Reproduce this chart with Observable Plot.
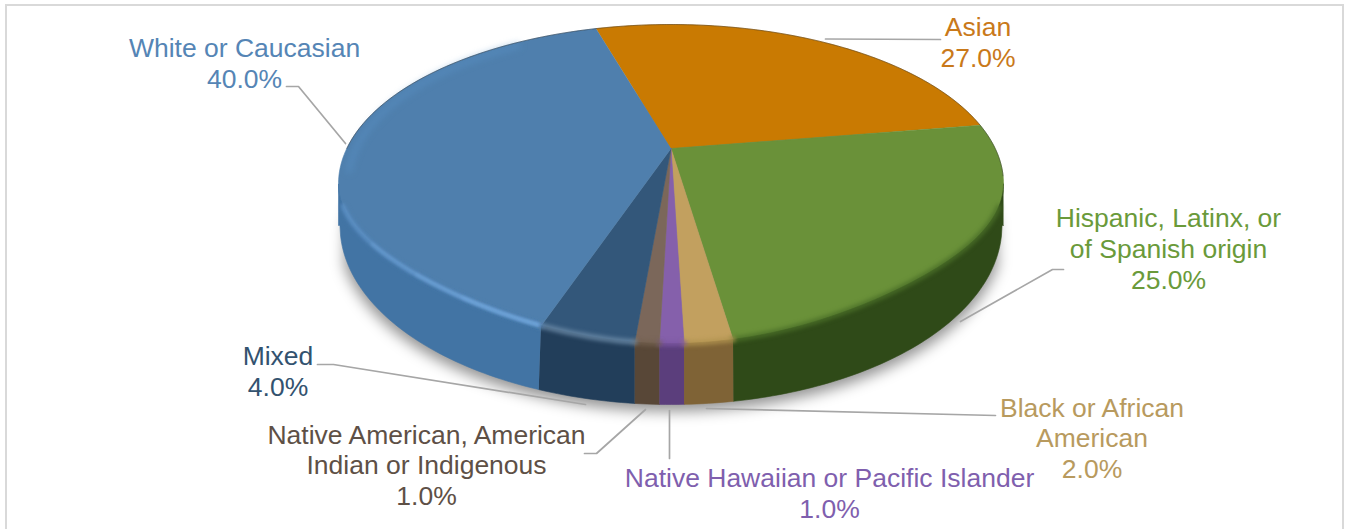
<!DOCTYPE html>
<html>
<head>
<meta charset="utf-8">
<script src="https://cdn.jsdelivr.net/npm/d3@7"></script>
<script src="https://cdn.jsdelivr.net/npm/@observablehq/plot@0.6"></script>
<style>
  html, body { margin: 0; padding: 0; background: #fff; overflow: hidden; }
  #chart { position: relative; width: 1347px; height: 529px; overflow: hidden; }
  #chart svg { display: block; }
  #frame { position: absolute; left: 5px; top: 4px; width: 1335px; height: 540px;
           border: 2px solid #d9d9d9; box-sizing: content-box; pointer-events: none; }
</style>
</head>
<body>
<div id="chart"><div id="frame"></div></div>
<script>
// Shares in clockwise order, beginning at the Asian wedge
const categories = ["Asian", "Hispanic, Latinx, or of Spanish origin", "Black or African American",
  "Native Hawaiian or Pacific Islander", "Native American, American Indian or Indigenous", "Mixed", "White or Caucasian"];
const values = [27, 25, 2, 1, 1, 4, 40];

const labelText = ["Asian\n27.0%", "Hispanic, Latinx, or\nof Spanish origin\n25.0%", "Black or African\nAmerican\n2.0%",
  "Native Hawaiian or Pacific Islander\n1.0%", "Native American, American\nIndian or Indigenous\n1.0%", "Mixed\n4.0%", "White or Caucasian\n40.0%"];
const labelX = [977.5, 1168, 1091.5, 829, 426, 277.5, 244];
const labelY = [41.5, 247.5, 437, 492.5, 464, 370.5, 62];

const faceColors = ["#c97a02", "#6a9139", "#c2a05f", "#8560ab", "#7b675a", "#33577a", "#4f7fad"];
const wallColors = ["#8a5400", "#2f4a18", "#7f6336", "#5b3e7c", "#584737", "#223e5a", "#4274a4"];
const bevelColors = ["#c97a02", "#4a6f28", "#b0924f", "#7d58a3", "#73604f", "#6d8ca8", "#5386ba"];
const textColors = ["#c9791a", "#6a9a3a", "#b89a5e", "#7f5fae", "#5e5046", "#33526f", "#5585b5"];

// Callout lines, one polyline per category
const leaders = [
  [[825, 38.5], [940, 39]],
  [[960, 321], [1052, 269], [1063, 269]],
  [[706, 408], [995, 415]],
  [[669, 410], [669, 458]],
  [[645, 409], [596, 453], [584, 453]],
  [[317, 364], [333, 364], [585, 404]],
  [[286, 86], [298, 86], [345, 143]]
];

// Perspective disc: apex, foreshortening and tilt of the tabletop
const apex = [670.5, 148], persp = 0.2226, sx = 324.2, sy = 151.6;
const startAngle = -16.3;
const toRad = Math.PI / 180;
const sideAngle = Math.acos(-persp) / toRad; // where the rim is widest

function project(deg, r = 1) {
  const u = r * Math.sin(deg * toRad), v = r * Math.cos(deg * toRad), w = 1 + persp * v;
  // slight pinch at the very front of the disc
  const pinch = 1 - 0.055 * Math.max(0, -v) ** 4;
  return {x: apex[0] + sx * u * pinch / w, y: apex[1] - sy * v / w};
}
// Lower outline of the disc, given the horizontal position on the rim
function floorY(x) {
  const t = (x - apex[0]) / 331;
  return 225 + 179 * Math.sqrt(Math.max(0, 1 - t * t));
}
// The lit top surface ends a little inside the rim on the front shoulders
function bevelRadius(deg) {
  const t = (deg - 180) / (180 - sideAngle) * 90 * toRad;
  return 1 - 0.03 * Math.sin(2 * t) ** 2;
}
function arc(a, b, fn) {
  const out = [], n = Math.max(2, Math.ceil(Math.abs(b - a)));
  for (let i = 0; i <= n; i++) out.push(fn(a + (b - a) * i / n));
  return out;
}

// Angular extents from the values
let acc = startAngle;
const slices = categories.map((name, i) => {
  const a = acc, b = acc + values[i] * 3.6;
  acc = b;
  return {name, a, b, i};
});

const faces = slices.map(s => [{x: apex[0], y: apex[1]}, ...arc(s.a, s.b, d => project(d))]);
const walls = slices.map(s => {
  const a = Math.max(s.a, sideAngle), b = Math.min(s.b, 360 - sideAngle);
  if (b <= a) return null;
  const top = arc(a, b, d => project(d, bevelRadius(d)));
  const rim = arc(b, a, d => { const p = project(d); return {x: p.x, y: floorY(p.x)}; });
  return {a, b, top, poly: [...top, ...rim]};
});
// Soft shadow under the front of the disc
const shadow = arc(0, 360, d => {
  const p = project(d), front = d > 90 && d < 270;
  return {x: apex[0] + (p.x - apex[0]) * 1.004, y: front ? floorY(p.x) + 7 : p.y + 72};
});

const xy = {x: "x", y: "y"};
const marks = [
  Plot.line(shadow, {...xy, fill: "#000", fillOpacity: 0.42, stroke: "none", imageFilter: "blur(7px)"})
];
faces.forEach((pts, i) => marks.push(
  Plot.line(pts, {...xy, fill: faceColors[i], stroke: faceColors[i], strokeWidth: 0.6})
));
// Faint sheen along the left edge of the largest wedge
marks.push(Plot.line(arc(262, 325, d => project(d, 0.972)),
  {...xy, stroke: "#5a94c9", strokeWidth: 7, strokeOpacity: 0.4, imageFilter: "blur(3px)"}));
walls.forEach((w, i) => {
  if (!w) return;
  marks.push(Plot.line(w.poly, {...xy, fill: wallColors[i], stroke: wallColors[i], strokeWidth: 0.6}));
});
// Rounded edge between the top surface and the wall
walls.forEach((w, i) => {
  if (!w) return;
  const a = Math.max(w.a, sideAngle + 8), b = Math.min(w.b, 352 - sideAngle);
  marks.push(Plot.line(arc(a, b, d => project(d, bevelRadius(d))),
    {...xy, stroke: bevelColors[i], strokeWidth: 5, strokeOpacity: i === 6 ? 0.8 : 0.9, imageFilter: "blur(2px)"}));
});
// Glint on the front of the blue wedge, brightening toward the Mixed wedge
[50, 36, 24, 14].forEach(span => marks.push(
  Plot.line(arc(slices[6].a + 0.5, slices[6].a + span, d => project(d, bevelRadius(d))),
    {...xy, stroke: "#7db4e8", strokeWidth: 3.5, strokeOpacity: 0.28, imageFilter: "blur(1.5px)"})
));
marks.push(Plot.line(arc(-90, 100, d => project(d)), {...xy, stroke: "#222", strokeWidth: 0.8, strokeOpacity: 0.5}));
leaders.forEach(l => marks.push(
  Plot.line(l, {x: d => d[0], y: d => d[1], stroke: "#a6a6a6", strokeWidth: 1.7})
));
categories.forEach((c, i) => marks.push(
  Plot.text([labelText[i]], {x: () => labelX[i], y: () => labelY[i], text: d => d, fill: textColors[i],
    fontSize: 26.5, lineHeight: 1.165, textAnchor: "middle", lineAnchor: "middle", stroke: "none"})
));

const chart = Plot.plot({
  width: 1347, height: 529, margin: 0,
  style: {background: "transparent", fontFamily: "'Liberation Sans', Arial, sans-serif", overflow: "visible"},
  x: {axis: null, domain: [0, 1347], range: [0, 1347]},
  y: {axis: null, domain: [0, 529], range: [0, 529]},
  marks
});
document.getElementById("chart").prepend(chart);
</script>
</body>
</html>
